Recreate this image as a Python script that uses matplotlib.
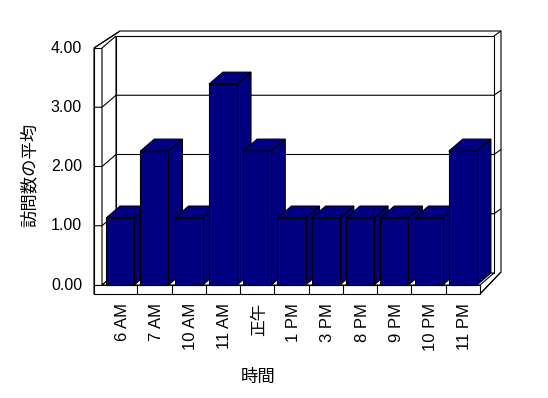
import matplotlib
matplotlib.use('Agg')
import matplotlib.pyplot as plt
from matplotlib.patches import Polygon

categories = ['6 AM', '7 AM', '10 AM', '11 AM', '正午', '1 PM', '3 PM', '8 PM', '9 PM', '10 PM', '11 PM']
values = [1.13, 2.26, 1.13, 3.39, 2.26, 1.13, 1.13, 1.13, 1.13, 1.13, 2.26]
yticks = [0, 1, 2, 3, 4]
ytick_labels = ['0.00', '1.00', '2.00', '3.00', '4.00']
xlabel = '時間'
ylabel = '訪問数の平均'

plt.rcParams['font.family'] = ['Liberation Sans', 'Noto Sans CJK JP', 'DejaVu Sans']

W, H = 548, 398
fig = plt.figure(figsize=(W / 100, H / 100), dpi=100)
fig.patch.set_facecolor('white')

# front plane in pixel coordinates (image, y down)
L, R, B, T = 103, 480, 285, 48
ax = fig.add_axes([L / W, 1 - B / H, (R - L) / W, (B - T) / H])
n = len(categories)
ymax = yticks[-1]
ax.set_xlim(-0.5, n - 0.5)
ax.set_ylim(0, ymax)
ax.axis('off')

sx = n / (R - L)          # data units per pixel (x)
sy = ymax / (B - T)       # data units per pixel (y)
DX, DY = 14 * sx, 12 * sy  # depth offset
EX, EY = 7 * sx, 5 * sy    # wall thickness offset

lw = 0.8
ec = 'black'
x_out = -0.5 - 9 * sx
x_in = -0.5 - 1 * sx
x_r = n - 0.5
fl = -9 * sy  # floor thickness (below 0)

def poly(pts, fc='white', z=1):
    ax.add_patch(Polygon(pts, closed=True, facecolor=fc, edgecolor=ec, lw=lw,
                         zorder=z, clip_on=False, joinstyle='miter'))

def line(xs, ys, z=2):
    ax.plot(xs, ys, color=ec, lw=lw, zorder=z, clip_on=False,
            solid_capstyle='butt')

# outer silhouette
poly([(x_out, fl), (x_out, ymax), (x_in + DX + EX - 3 * sx, ymax + DY + EY),
      (x_r + DX + EX, ymax + DY + EY), (x_r + DX + EX, DY + EY - 4 * sy),
      (x_r, fl)], z=0.5)
# back wall face
poly([(x_in + DX, DY), (x_in + DX, ymax + DY), (x_r + DX, ymax + DY), (x_r + DX, DY)], z=1)
# left wall front strip and inner face
poly([(x_out, 0), (x_out, ymax), (x_in, ymax), (x_in, 0)], z=1)
poly([(x_in, 0), (x_in, ymax), (x_in + DX, ymax + DY), (x_in + DX, DY)], z=1)
# floor top and front
poly([(x_in, 0), (x_r, 0), (x_r + DX, DY), (x_in + DX, DY)], z=1)
poly([(x_out, fl), (x_out, 0), (x_r, 0), (x_r, fl)], z=1)
# floor right side
line([x_r, x_r + DX + EX], [fl, DY + EY - 4 * sy])
# top corner diagonals
line([x_r + DX, x_r + DX + EX], [ymax + DY, ymax + DY + EY])
line([x_out, x_in + DX + EX - 3 * sx], [ymax, ymax + DY + EY])

# gridlines
for v in yticks[1:-1]:
    line([x_out, x_in, x_in + DX, x_r + DX, x_r + DX + EX],
         [v, v, v + DY, v + DY, v + DY + EY])
# floor dividers
for k in range(n - 1):
    line([k + 0.5, k + 0.5], [fl, 0])

# bars
hw = 0.41
navy = '#000080'
for i, v in enumerate(values):
    x0, x1 = i - hw, i + hw
    z = 3 + i * 0.01
    poly([(x1, 0), (x1 + DX, DY), (x1 + DX, v + DY), (x1, v)], fc=navy, z=z)
    poly([(x0, v), (x0 + DX, v + DY), (x1 + DX, v + DY), (x1, v)], fc=navy, z=z)
    poly([(x0, 0), (x0, v), (x1, v), (x1, 0)], fc=navy, z=z)

# y tick labels
for v, lab in zip(yticks, ytick_labels):
    ax.text(x_out - 12 * sx, v, lab, ha='right', va='center', fontsize=11.5)

# x tick labels
for i, lab in enumerate(categories):
    ax.text(i + 2 * sx, -(303 - B) * sy, lab, ha='center', va='top',
            rotation=90, fontsize=12)

fig.text(29 / W, 1 - 175 / H, ylabel, rotation=90, ha='center', va='center', fontsize=12.5)
fig.text(258 / W, 1 - 377 / H, xlabel, ha='center', va='center', fontsize=12.5)

fig.savefig('out.png', dpi=100, facecolor='white')
